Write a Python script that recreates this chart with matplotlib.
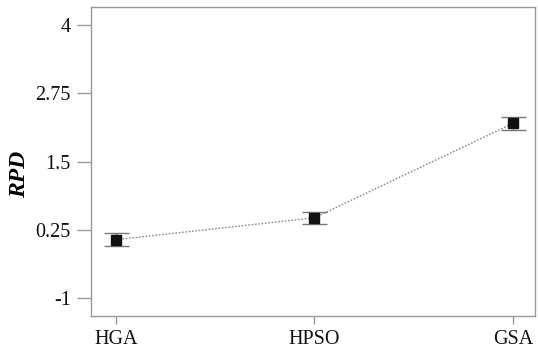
import matplotlib.pyplot as plt

algorithms = ['HGA', 'HPSO', 'GSA']
rpd_mean = [0.07, 0.47, 2.2]
rpd_err = [0.12, 0.11, 0.12]
y_ticks = [-1, 0.25, 1.5, 2.75, 4]
y_tick_labels = ['-1', '0.25', '1.5', '2.75', '4']

plt.rcParams['font.family'] = ['Liberation Serif', 'DejaVu Serif']

fig = plt.figure(figsize=(5.38, 3.52), dpi=100)
ax = fig.add_axes([0.169, 0.102, 0.825, 0.878])

x = list(range(len(algorithms)))
ax.plot(x, rpd_mean, linestyle=(0, (1.2, 1.2)), color='#888888', linewidth=1.0, zorder=1)
ax.errorbar(x, rpd_mean, yerr=rpd_err, fmt='none', ecolor='#777777',
            elinewidth=1.0, capsize=9, capthick=1.0, zorder=2)
ax.plot(x, rpd_mean, linestyle='none', marker='s', markersize=6.5,
        color='#111111', zorder=3)

ax.set_xlim(-0.125, 2.11)
ax.set_ylim(-1.33, 4.33)
ax.set_xticks(x)
ax.set_xticklabels(algorithms)
ax.set_yticks(y_ticks)
ax.set_yticklabels(y_tick_labels)

# y label placed by hand so it sits where the reference has it
fig.text(0.037, 0.505, 'RPD', fontsize=17, fontweight='bold', fontstyle='italic',
         rotation=90, ha='center', va='center')

for s in ax.spines.values():
    s.set_color('#999999')
    s.set_linewidth(1.0)
ax.tick_params(axis='both', direction='out', width=1.0, color='#999999',
               labelsize=14.5, labelcolor='#111111')
ax.tick_params(axis='y', length=10, pad=4.5)
ax.tick_params(axis='x', length=6, pad=4)

fig.savefig('out.png', dpi=100)
